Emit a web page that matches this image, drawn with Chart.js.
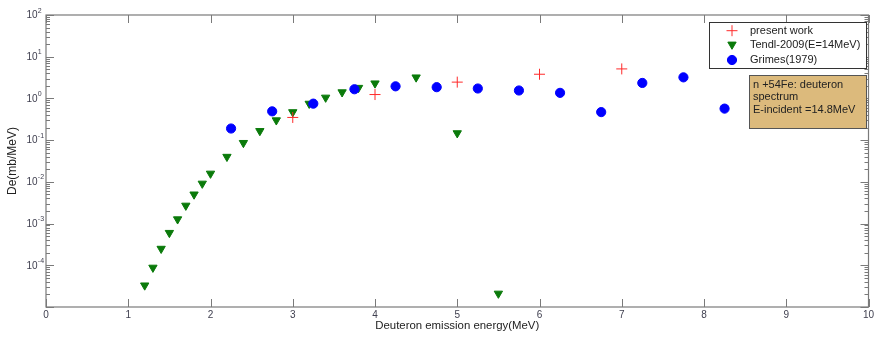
<!DOCTYPE html>
<html>
<head>
<meta charset="utf-8">
<script src="https://cdn.jsdelivr.net/npm/chart.js@4.4.1/dist/chart.umd.min.js"></script>
<style>
  html, body { margin: 0; padding: 0; background: #fff; }
  #wrap { width: 875px; height: 337px; }
</style>
</head>
<body>
<div id="wrap"><canvas id="deuteronChart" width="875" height="337"></canvas></div>
<script>
// values
const presentEnergy = [3, 4, 5, 6, 7];
const presentValues = [0.35, 1.24, 2.46, 3.8, 5.1];

const tendlEnergy = [1.2, 1.3, 1.4, 1.5, 1.6, 1.7, 1.8, 1.9, 2.0,
                     2.2, 2.4, 2.6, 2.8, 3.0, 3.2, 3.4, 3.6, 3.8,
                     4.0, 4.5, 5.0, 5.5];
const tendlValues = [3.3e-5, 8.8e-5, 2.5e-4, 6.0e-4, 1.27e-3, 2.7e-3, 5.0e-3, 9.1e-3, 0.0158,
                     0.040, 0.086, 0.166, 0.30, 0.47, 0.75, 1.05, 1.41, 1.8,
                     2.3, 3.2, 0.147, 2.1e-5];

const grimesEnergy = [2.25, 2.75, 3.25, 3.75, 4.25, 4.75, 5.25, 5.75, 6.25, 6.75, 7.25, 7.75, 8.25];
const grimesValues = [0.19, 0.49, 0.75, 1.66, 1.95, 1.86, 1.73, 1.55, 1.36, 0.47, 2.35, 3.2, 0.57];

const xTicks = [0, 1, 2, 3, 4, 5, 6, 7, 8, 9, 10];
const yDecades = [-5, -4, -3, -2, -1, 0, 1, 2];
const yLabelDecades = [-4, -3, -2, -1, 0, 1, 2];
const noteLines = ['n +54Fe: deuteron', 'spectrum', 'E-incident =14.8MeV'];

const FONT = "'Liberation Sans', Arial, sans-serif";

function toPoints(xs, ys) {
    return xs.map((x, i) => ({ x: x, y: ys[i] }));
}

const framePlugin = {
    id: 'frame',
    afterDraw(chart) {
        const ctx = chart.ctx;
        const a = chart.chartArea;
        const xs = chart.scales.x;
        const ys = chart.scales.y;
        ctx.save();

        // box round the plot
        ctx.strokeStyle = '#7a7a7a';
        ctx.lineWidth = 1.2;
        ctx.strokeRect(a.left, a.top, a.right - a.left, a.bottom - a.top);

        // inward ticks, x
        ctx.lineWidth = 1;
        ctx.beginPath();
        xTicks.forEach(v => {
            const px = Math.round(xs.getPixelForValue(v)) + 0.5;
            ctx.moveTo(px, a.bottom); ctx.lineTo(px, a.bottom - 8);
            ctx.moveTo(px, a.top); ctx.lineTo(px, a.top + 8);
        });
        // inward ticks, y (decades + minors)
        yDecades.forEach(d => {
            for (let m = 1; m <= 9; m++) {
                const val = m * Math.pow(10, d);
                if (val > ys.max * 1.0001) break;
                const py = Math.round(ys.getPixelForValue(val)) + 0.5;
                const len = m === 1 ? 8 : 4;
                ctx.moveTo(a.left, py); ctx.lineTo(a.left + len, py);
                ctx.moveTo(a.right, py); ctx.lineTo(a.right - len, py);
            }
        });
        ctx.stroke();

        // y labels with exponents
        ctx.fillStyle = '#404050';
        yLabelDecades.forEach(d => {
            const py = ys.getPixelForValue(Math.pow(10, d));
            ctx.font = '10px ' + FONT;
            ctx.textAlign = 'right';
            ctx.textBaseline = 'middle';
            ctx.fillText('10', 37.5, py + 0.5);
            ctx.font = '7px ' + FONT;
            ctx.textAlign = 'left';
            ctx.textBaseline = 'alphabetic';
            ctx.fillText(String(d), 37.8, py - 2.5);
        });

        // legend
        const lx = 709, ly = 22, lw = 157, lh = 46;
        ctx.fillStyle = '#fff';
        ctx.fillRect(lx, ly, lw, lh);
        ctx.strokeStyle = '#333';
        ctx.lineWidth = 1;
        ctx.strokeRect(lx + 0.5, ly + 0.5, lw, lh);
        const rows = [30.7, 44.5, 60];
        chart.data.datasets.forEach((ds, i) => {
            ctx.fillStyle = ds.backgroundColor;
            ctx.strokeStyle = ds.borderColor;
            ctx.lineWidth = ds.borderWidth;
            Chart.helpers.drawPoint(ctx, {
                pointStyle: ds.pointStyle,
                radius: ds.pointRadius,
                rotation: ds.rotation || 0,
                borderWidth: ds.borderWidth
            }, 732, rows[i]);
            ctx.fillStyle = '#222';
            ctx.font = '11px ' + FONT;
            ctx.textAlign = 'left';
            ctx.textBaseline = 'middle';
            ctx.fillText(ds.label, 750, rows[i]);
        });

        // note box
        const nx = 749, ny = 75, nw = 117, nh = 53;
        ctx.fillStyle = '#dcba7c';
        ctx.fillRect(nx, ny, nw, nh);
        ctx.strokeStyle = '#555';
        ctx.strokeRect(nx + 0.5, ny + 0.5, nw, nh);
        ctx.fillStyle = '#222';
        ctx.font = '11px ' + FONT;
        noteLines.forEach((t, i) => {
            ctx.fillText(t, 753, 84.5 + i * 12.6);
        });

        ctx.restore();
    }
};

new Chart(document.getElementById('deuteronChart'), {
    type: 'scatter',
    data: {
        datasets: [{
            label: 'present work',
            data: toPoints(presentEnergy, presentValues),
            pointStyle: 'cross',
            pointRadius: 5.5,
            borderColor: '#ff2a2a',
            backgroundColor: '#ff2a2a',
            borderWidth: 1,
            order: 0
        }, {
            label: 'Tendl-2009(E=14MeV)',
            data: toPoints(tendlEnergy, tendlValues),
            pointStyle: 'triangle',
            rotation: 180,
            pointRadius: 4.8,
            borderColor: '#0a7a0a',
            backgroundColor: '#0a7a0a',
            borderWidth: 1,
            order: 2
        }, {
            label: 'Grimes(1979)',
            data: toPoints(grimesEnergy, grimesValues),
            pointStyle: 'circle',
            pointRadius: 4.6,
            borderColor: '#0000ff',
            backgroundColor: '#0000ff',
            borderWidth: 1,
            order: 1
        }]
    },
    options: {
        responsive: false,
        animation: false,
        devicePixelRatio: 1,
        layout: { padding: { top: 15, right: 5, left: 0, bottom: 0 } },
        plugins: {
            legend: { display: false },
            tooltip: { enabled: false }
        },
        scales: {
            x: {
                type: 'linear',
                min: 0,
                max: 10,
                afterBuildTicks: s => { s.ticks = xTicks.map(v => ({ value: v })); },
                ticks: { color: '#404050', font: { size: 10, family: FONT }, padding: 2, maxRotation: 0 },
                grid: { display: false, drawTicks: false, tickLength: 0 },
                border: { display: false },
                title: {
                    display: true,
                    text: 'Deuteron emission energy(MeV)',
                    color: '#222',
                    font: { size: 11.4, family: FONT },
                    padding: { top: 0, bottom: 4 }
                },
                afterFit: s => { s.height = 30; s.paddingLeft = 0; s.paddingRight = 0; }
            },
            y: {
                type: 'logarithmic',
                min: 1e-5,
                max: 1e2,
                ticks: { display: false },
                grid: { display: false, drawTicks: false },
                border: { display: false },
                title: {
                    display: true,
                    text: 'De(mb/MeV)',
                    color: '#222',
                    font: { size: 12, family: FONT },
                    padding: { top: 5, bottom: 0 }
                },
                afterFit: s => { s.width = 46; s.paddingTop = 0; s.paddingBottom = 0; }
            }
        }
    },
    plugins: [framePlugin]
});
</script>
</body>
</html>
